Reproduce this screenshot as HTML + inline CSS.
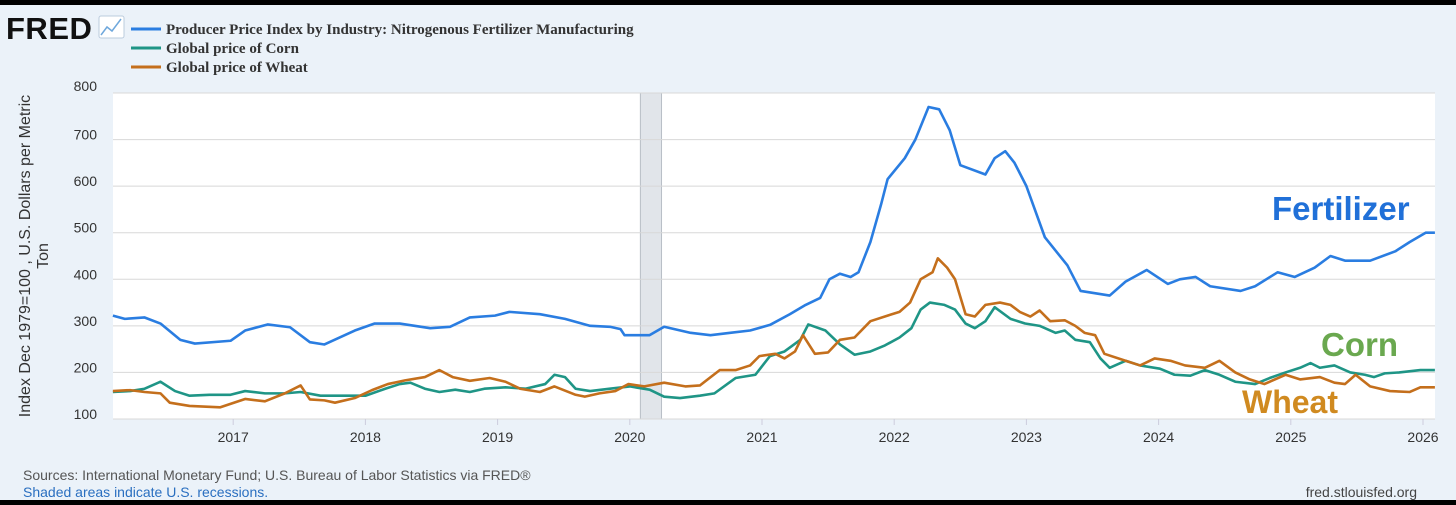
<!DOCTYPE html>
<html><head><meta charset="utf-8"><style>
body{margin:0;background:#000;}
#wrap{position:absolute;left:0;top:0;width:1456px;height:505px;background:#000;overflow:hidden;font-family:"Liberation Sans",sans-serif;}
#card{position:absolute;left:0;top:5px;width:1456px;height:495px;background:#ebf2f9;}
</style></head><body>
<div id="wrap">
<div id="card"></div>
<svg id="svg" width="1456" height="505" style="position:absolute;left:0;top:0"></svg>
</div>
<script>
const yTicks=[100,200,300,400,500,600,700,800];
const xTickYears=[2017,2018,2019,2020,2021,2022,2023,2024,2025,2026];
const recessionStart=2020.08, recessionEnd=2020.24;
const fertDates=[2016.09,2016.18,2016.33,2016.45,2016.60,2016.71,2016.98,2017.09,2017.26,2017.43,2017.58,2017.69,2017.92,2018.07,2018.26,2018.49,2018.64,2018.79,2018.98,2019.09,2019.32,2019.51,2019.70,2019.85,2019.93,2019.96,2020.15,2020.26,2020.46,2020.61,2020.76,2020.91,2021.06,2021.21,2021.33,2021.44,2021.51,2021.59,2021.67,2021.73,2021.82,2021.90,2021.95,2022.08,2022.16,2022.26,2022.34,2022.42,2022.50,2022.69,2022.76,2022.84,2022.91,2023.00,2023.14,2023.31,2023.41,2023.63,2023.75,2023.91,2024.07,2024.16,2024.28,2024.39,2024.62,2024.73,2024.90,2025.03,2025.18,2025.30,2025.41,2025.60,2025.79,2025.90,2026.02,2026.09];
const fertValues=[322,315,318,305,270,262,268,290,303,297,265,260,290,305,305,295,298,318,322,330,325,315,300,298,293,280,280,298,285,280,285,290,302,325,345,360,400,412,405,415,480,560,615,660,700,770,765,720,645,625,660,675,650,600,490,430,375,365,395,420,390,400,405,385,375,385,415,405,425,450,440,440,460,480,500,500];
const cornDates=[2016.09,2016.22,2016.33,2016.45,2016.56,2016.67,2016.82,2016.98,2017.09,2017.24,2017.39,2017.51,2017.66,2017.85,2018.00,2018.15,2018.26,2018.34,2018.45,2018.56,2018.68,2018.79,2018.90,2019.06,2019.21,2019.36,2019.43,2019.51,2019.59,2019.70,2019.85,2020.00,2020.15,2020.26,2020.38,2020.53,2020.64,2020.80,2020.95,2021.06,2021.17,2021.29,2021.35,2021.48,2021.59,2021.70,2021.82,2021.93,2022.04,2022.13,2022.20,2022.27,2022.38,2022.46,2022.54,2022.61,2022.69,2022.76,2022.88,2022.99,2023.10,2023.22,2023.29,2023.37,2023.48,2023.56,2023.63,2023.75,2023.86,2024.01,2024.12,2024.24,2024.35,2024.46,2024.58,2024.73,2024.84,2024.96,2025.07,2025.15,2025.22,2025.33,2025.45,2025.56,2025.63,2025.71,2025.82,2025.98,2026.09];
const cornValues=[158,160,165,180,160,150,152,152,160,155,155,158,150,150,150,165,175,178,165,158,163,158,165,168,165,175,195,190,165,160,165,170,163,148,145,150,155,188,195,235,245,270,303,290,260,238,245,258,275,295,335,350,345,335,305,295,310,340,315,305,300,285,290,270,265,230,210,225,215,208,195,193,205,195,180,175,188,200,210,220,210,215,200,195,190,198,200,205,205];
const wheatDates=[2016.09,2016.22,2016.33,2016.45,2016.52,2016.67,2016.90,2017.09,2017.24,2017.39,2017.51,2017.58,2017.69,2017.77,2017.92,2018.05,2018.17,2018.30,2018.45,2018.56,2018.66,2018.79,2018.94,2019.06,2019.17,2019.32,2019.43,2019.59,2019.66,2019.77,2019.89,2019.99,2020.11,2020.26,2020.42,2020.53,2020.68,2020.80,2020.91,2020.98,2021.10,2021.17,2021.25,2021.31,2021.40,2021.50,2021.59,2021.70,2021.82,2021.95,2022.04,2022.12,2022.20,2022.29,2022.33,2022.40,2022.46,2022.54,2022.61,2022.69,2022.80,2022.88,2022.95,2023.03,2023.10,2023.18,2023.29,2023.37,2023.44,2023.52,2023.59,2023.75,2023.86,2023.97,2024.09,2024.20,2024.35,2024.46,2024.58,2024.69,2024.80,2024.96,2025.07,2025.22,2025.33,2025.41,2025.49,2025.60,2025.75,2025.90,2025.98,2026.09];
const wheatValues=[160,162,158,155,135,128,125,143,138,155,172,142,140,135,145,162,175,183,190,205,190,182,188,180,165,158,170,152,148,155,160,175,170,178,170,172,205,205,215,235,240,230,245,280,240,243,270,275,310,322,330,350,400,415,445,425,400,325,320,345,350,345,330,320,333,310,312,300,285,280,240,225,215,230,225,215,210,225,200,185,175,195,185,190,178,175,195,170,160,158,168,168];

const L=113,R=1435,T=93,B=419;
const X0=2016+(113-101)/132.2, X1=2016+(1435-101)/132.2;
const xs=y=>L+(y-X0)/(X1-X0)*(R-L);
const ys=v=>B-(v-100)/700*(B-T);
const svg=document.getElementById('svg');
const NS='http://www.w3.org/2000/svg';
function mk(tag,attrs,parent){const e=document.createElementNS(NS,tag);for(const k in attrs)e.setAttribute(k,attrs[k]);(parent||svg).appendChild(e);return e;}
function txt(s,attrs){const e=mk('text',attrs);e.textContent=s;return e;}

let e=mk('rect',{x:L,y:T,width:R-L,height:B-T,fill:'#fff'});


e=mk('rect',{x:xs(recessionStart),y:T,width:xs(recessionEnd)-xs(recessionStart),height:B-T,fill:'#e1e5ea',stroke:'#b8bec6','stroke-width':1});


yTicks.forEach(v=>{
  const g=mk('line',{x1:L,x2:R,y1:ys(v),y2:ys(v),stroke:'#d8d8d8','stroke-width':1});
  
  
  const t=txt(String(v),{x:97,y:ys(v)+(v===800?-2:0),'text-anchor':'end','font-size':14,fill:'#333'});
  
  
});
xTickYears.forEach(yr=>{
  const tk=mk('line',{x1:xs(yr),x2:xs(yr),y1:B,y2:B+6,stroke:'#ccd','stroke-width':1});
  
  
  const t=txt(String(yr),{x:xs(yr),y:442,'text-anchor':'middle','font-size':14,fill:'#333'});
  
  
});
function series(d,v,color,name){
  const p=mk('polyline',{points:d.map((x,i)=>xs(x)+','+ys(v[i])).join(' '),fill:'none',stroke:color,'stroke-width':2.6,'stroke-linejoin':'round'});
  
  
}
series(cornDates,cornValues,'#1f9586','corn-line');
series(wheatDates,wheatValues,'#c46f1c','wheat-line');
series(fertDates,fertValues,'#2a7de1','fertilizer-line');

let a=txt('Fertilizer',{x:1272,y:220,'font-size':33,'font-weight':'bold',fill:'#2070d8'});

a=txt('Corn',{x:1321,y:356,'font-size':33,'font-weight':'bold',fill:'#6aa84f'});

a=txt('Wheat',{x:1242,y:413,'font-size':32,'font-weight':'bold',fill:'#d08a20'});


a=txt('FRED',{x:6,y:39,'font-size':31,'font-weight':'bold',fill:'#111','letter-spacing':'0.5'});

e=mk('rect',{x:99,y:16,width:25,height:22,fill:'#fff',stroke:'#bcd',rx:2});

e=mk('polyline',{points:'101,35 107,27 112,31 121,19',fill:'none',stroke:'#6fa8dc','stroke-width':1.5});

const legendItems=[['Producer Price Index by Industry: Nitrogenous Fertilizer Manufacturing','#2a7de1'],['Global price of Corn','#1f9586'],['Global price of Wheat','#c46f1c']];
legendItems.forEach((it,i)=>{
  const y=29+i*19;
  const l=mk('line',{x1:131,x2:161,y1:y,y2:y,stroke:it[1],'stroke-width':3});
  
  const t=txt(it[0],{x:166,y:y+5,'font-size':15,'font-weight':'bold','font-family':'Liberation Serif, serif',fill:'#333'});
  
});
a=txt('Index Dec 1979=100 , U.S. Dollars per Metric',{x:0,y:0,'font-size':16,fill:'#333','text-anchor':'middle',transform:'translate(30,256) rotate(-90)'});

a=txt('Ton',{x:0,y:0,'font-size':16,fill:'#333','text-anchor':'middle',transform:'translate(48,256) rotate(-90)'});

a=txt('Sources: International Monetary Fund; U.S. Bureau of Labor Statistics via FRED®',{x:23,y:480,'font-size':14,fill:'#555'});

a=txt('Shaded areas indicate U.S. recessions.',{x:23,y:497,'font-size':14,fill:'#2a6fc0'});

a=txt('fred.stlouisfed.org',{x:1417,y:497,'font-size':14,fill:'#444','text-anchor':'end'});

</script>
</body></html>
